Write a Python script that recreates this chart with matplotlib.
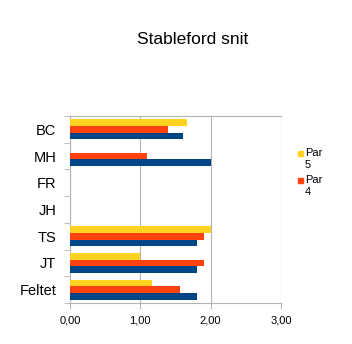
import matplotlib
matplotlib.use("Agg")
import matplotlib.pyplot as plt
from matplotlib.patches import Rectangle
import numpy as np

plt.rcParams['font.family'] = ['Liberation Sans', 'DejaVu Sans']

categories = ["BC", "MH", "FR", "JH", "TS", "JT", "Feltet"]
par3 = [1.60, 2.00, 0, 0, 1.80, 1.80, 1.80]
par4 = [1.39, 1.10, 0, 0, 1.90, 1.90, 1.57]
par5 = [1.66, 0, 0, 0, 2.00, 1.00, 1.16]
xticks = [0, 1, 2, 3]
xtick_labels = ["0,00", "1,00", "2,00", "3,00"]
legend_labels = ["Par\n5", "Par\n4"]

W, H = 352, 344
fig = plt.figure(figsize=(W / 100, H / 100), dpi=100)
ax = fig.add_axes([0.199, 0.119, 0.599, 0.544])

n = len(categories)
y = np.arange(n)[::-1]
h = 0.25
c3, c4, c5 = "#004586", "#FF420E", "#FFD320"
ax.barh(y - h, par3, height=h, color=c3, zorder=3)
ax.barh(y, par4, height=h, color=c4, zorder=3)
ax.barh(y + h, par5, height=h, color=c5, zorder=3)

ax.set_xlim(0, 3)
ax.set_ylim(-0.5, n - 0.5)
ax.set_xticks(xticks)
ax.set_xticklabels(xtick_labels, fontsize=8)
ax.set_yticks(y)
ax.set_yticklabels(categories, fontsize=10.5)
ax.set_yticks(np.arange(-0.5, n, 1), minor=True)
ax.tick_params(axis='y', which='major', length=0, pad=10)
ax.tick_params(axis='y', which='minor', length=4, color="#b3b3b3", direction='out')
ax.tick_params(axis='x', length=4, color="#b3b3b3", direction='out', pad=5)
ax.grid(axis='x', color="#b3b3b3", linewidth=0.8, zorder=0)
for s in ['left', 'bottom', 'top', 'right']:
    ax.spines[s].set_color("#b3b3b3")
    ax.spines[s].set_linewidth(0.8)
ax.spines['right'].set_visible(False)

# legend (manual, wrapped labels as in the reference)
for i, (lab, col) in enumerate(zip(legend_labels, [c5, c4])):
    ytop = 151 + i * 27
    fig.patches.append(Rectangle((298 / W, 1 - (ytop + 5) / H), 5 / W, 5 / H,
                                 transform=fig.transFigure, color=col, figure=fig))
    fig.text(305 / W, 1 - (ytop - 3) / H, lab, ha='left', va='top', fontsize=8,
             linespacing=1.3)

fig.text(0.548, 0.884, "Stableford snit", ha='center', va='center', fontsize=12.5)

fig.savefig("out.png", dpi=100)
